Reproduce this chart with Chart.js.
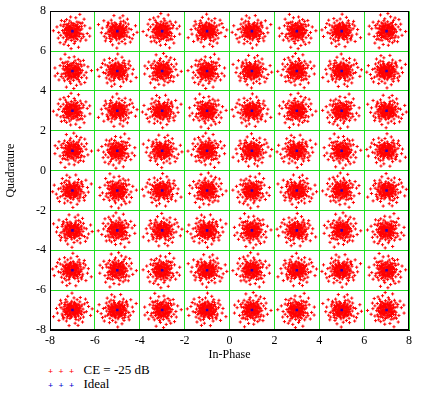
<!DOCTYPE html>
<html>
<head>
<meta charset="utf-8">
<script src="https://cdn.jsdelivr.net/npm/chart.js@4"></script>
<style>
  body { margin: 0; background: #fff; font-family: "Liberation Serif", serif; }
  #wrap { position: relative; width: 422px; height: 394px; }
  #c { position: absolute; left: 0; top: 0; }
  .leg { position: absolute; left: 48px; font-size: 13px; color: #000; height: 14px; line-height: 14px; }
  .leg .m { display: inline-block; width: 10.5px; font-size: 9px; font-weight: bold; }
  .leg .t { margin-left: 4px; }
</style>
</head>
<body>
<div id="wrap">
  <canvas id="c" width="422" height="362"></canvas>
  <div class="leg" style="top:363px"><span class="m" style="color:#f00">+</span><span class="m" style="color:#f00">+</span><span class="m" style="color:#f00">+</span><span class="t">CE = -25 dB</span></div>
  <div class="leg" style="top:377px"><span class="m" style="color:#00c">+</span><span class="m" style="color:#00c">+</span><span class="m" style="color:#00c">+</span><span class="t">Ideal</span></div>
</div>
<script>
// 64-QAM constellation levels
const levels = [-7, -5, -3, -1, 1, 3, 5, 7];
const tickValues = [-8, -6, -4, -2, 0, 2, 4, 6, 8];

// typical scatter of received symbols around one ideal point (read off a cluster)
const offsets = [
  [0.05,0.12],[-0.18,0.03],[0.22,-0.09],[-0.07,-0.25],[0.31,0.14],[-0.29,0.21],[0.11,0.33],[-0.14,-0.11],[0.02,-0.04],[0.41,-0.22],
  [-0.38,-0.06],[0.17,0.08],[-0.09,0.19],[0.26,0.27],[-0.22,-0.31],[0.08,-0.17],[-0.33,0.37],[0.47,0.05],[-0.03,0.44],[0.13,-0.38],
  [-0.51,0.12],[0.36,-0.41],[-0.16,0.09],[0.19,-0.02],[-0.25,-0.18],[0.06,0.26],[0.29,-0.13],[-0.11,-0.42],[0.54,0.31],[-0.44,-0.29],
  [0.01,0.07],[-0.06,-0.08],[0.14,0.16],[-0.2,0.28],[0.24,-0.24],[-0.35,0.02],[0.1,-0.29],[-0.02,0.18],[0.39,0.19],[-0.13,-0.21],
  [0.62,-0.08],[-0.58,0.26],[0.21,0.52],[-0.27,-0.55],[0.07,0.61],[0.33,0.41],[-0.41,-0.44],[0.49,-0.35],[-0.08,0.31],[0.16,-0.47],
  [-0.19,0.14],[0.27,0.04],[-0.31,-0.12],[0.04,-0.13],[-0.12,0.05],[0.18,0.22],[-0.24,0.41],[0.37,-0.17],[-0.04,-0.33],[0.09,0.39],
  [0.72,0.18],[-0.67,-0.15],[0.12,-0.66],[-0.21,0.69],[0.58,0.55],[-0.53,0.49],[0.45,-0.6],[-0.6,-0.52],[0.81,-0.27],[-0.15,-0.78],
  [0.03,-0.21],[-0.1,0.24],[0.23,0.13],[-0.28,-0.03],[0.15,-0.31],[-0.05,0.36],[0.32,-0.03],[-0.37,0.17],[0.2,0.3],[-0.17,-0.27],
  [0.43,0.26],[-0.46,-0.2],[0.28,-0.5],[-0.3,0.52],[0.0,0.0],[0.11,-0.07],[-0.08,0.12],[0.06,-0.1],[-0.15,-0.02],[0.13,0.04],
  [0.52,-0.12],[-0.49,0.35],[0.35,0.63],[-0.39,-0.37],[0.66,0.38],[-0.71,0.08],[0.25,-0.77],[-0.02,0.85],[0.88,0.06],[-0.84,-0.33],
  [0.09,0.02],[-0.04,0.09],[0.16,-0.12],[-0.21,-0.07],[0.12,0.21],[-0.15,0.17],[0.2,-0.18],[-0.1,-0.16],[0.25,0.09],[-0.26,0.08],
  [0.07,-0.24],[-0.03,0.23],[0.18,0.14],[-0.12,-0.26],[0.28,-0.06],[-0.23,0.13],[0.04,0.15],[-0.07,-0.14],[0.14,-0.2],[-0.18,0.24],
  [0.21,0.05],[-0.09,0.01],[0.03,-0.09],[-0.13,0.3],[0.1,0.27],[-0.27,-0.13],[0.23,-0.15],[-0.01,-0.19],[0.17,0.18],[-0.2,-0.22],
  [0.34,0.07],[-0.32,-0.22],[0.08,0.35],[-0.06,-0.36],[0.3,0.24],[-0.34,0.28],[0.27,-0.3],[-0.24,-0.4],[0.4,-0.06],[-0.42,0.05]
];

// each cluster uses the offsets under a different mirror/swap so they don't look identical
const variants = [
  (a, b) => [a, b], (a, b) => [-a, b], (a, b) => [a, -b], (a, b) => [-a, -b],
  (a, b) => [b, a], (a, b) => [-b, a], (a, b) => [b, -a], (a, b) => [-b, -a]
];

const ideal = [];
const received = [];
let k = 0;
levels.forEach(q => {
  levels.forEach(i => {
    ideal.push({ x: i, y: q });
    const v = variants[(k * 3 + Math.floor(k / 8)) % 8];
    offsets.forEach(o => {
      const d = v(o[0], o[1]);
      received.push({ x: i + d[0], y: q + d[1] });
    });
    k++;
  });
});

const serif = { family: '"Liberation Serif", serif', size: 12 };

// black frame round the plot area
const frame = {
  id: 'frame',
  afterDraw(chart) {
    const a = chart.chartArea, ctx = chart.ctx;
    ctx.save();
    ctx.strokeStyle = '#000';
    ctx.lineWidth = 1;
    ctx.strokeRect(Math.round(a.left) + 0.5, Math.round(a.top) + 0.5,
      Math.round(a.right - a.left) - 1, Math.round(a.bottom - a.top) - 1);
    ctx.restore();
  }
};

new Chart(document.getElementById('c'), {
  type: 'scatter',
  data: {
    datasets: [
      {
        label: 'Ideal',
        data: ideal,
        order: 0,
        pointStyle: 'rect',
        radius: 1.8,
        backgroundColor: '#3a00b0',
        borderColor: '#3a00b0',
        borderWidth: 0
      },
      {
        label: 'CE = -25 dB',
        data: received,
        order: 1,
        pointStyle: 'cross',
        radius: 1.6,
        borderColor: '#ff0000',
        borderWidth: 1
      }
    ]
  },
  plugins: [frame],
  options: {
    responsive: false,
    animation: false,
    events: [],
    layout: { padding: { top: 10, right: 13, left: 0, bottom: 0 } },
    plugins: { legend: { display: false }, tooltip: { enabled: false } },
    scales: {
      x: {
        type: 'linear', min: -8, max: 8,
        afterBuildTicks: s => { s.ticks = tickValues.map(v => ({ value: v })); },
        afterFit: s => { s.height = 32; },
        grid: { color: '#22dd22', drawTicks: false },
        border: { color: '#000', width: 1 },
        ticks: { color: '#000', font: serif, padding: 4, maxRotation: 0 },
        title: { display: true, text: 'In-Phase', color: '#000', font: serif, padding: 0 }
      },
      y: {
        type: 'linear', min: -8, max: 8,
        afterBuildTicks: s => { s.ticks = tickValues.map(v => ({ value: v })); },
        afterFit: s => { s.width = 50; },
        grid: { color: '#22dd22', drawTicks: false },
        border: { color: '#000', width: 1 },
        ticks: { color: '#000', font: serif, padding: 4 },
        title: { display: true, text: 'Quadrature', color: '#000', font: serif, padding: 4 }
      }
    }
  }
});
</script>
</body>
</html>
